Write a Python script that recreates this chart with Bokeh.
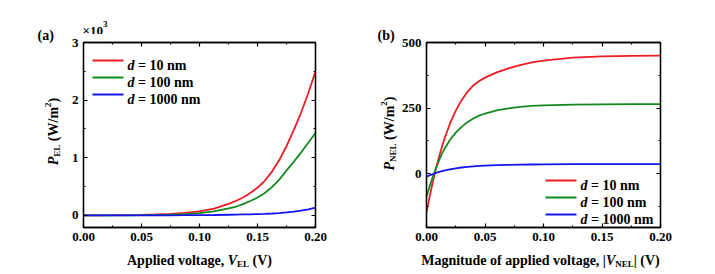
import math
from bokeh.plotting import figure
from bokeh.models import (Range1d, FixedTicker, LinearAxis, Label, NumeralTickFormatter,
                          CustomJSTickFormatter, Arrow, ColumnDataSource)
from bokeh.layouts import row, column
from bokeh.embed import file_html
from bokeh.resources import INLINE

# ---------------- data: panel (a), P_EL in units of 10^3 W/m^2 ----------------
v_el = [0.0, 0.0125, 0.025, 0.0375, 0.05, 0.0625, 0.075, 0.0875, 0.1, 0.1125, 0.125,
        0.13125, 0.1375, 0.14375, 0.15, 0.15625, 0.1625, 0.16875, 0.175, 0.18125, 0.1875, 0.19375, 0.2]
p_el_10nm = [0.0, 0.001, 0.003, 0.006, 0.010, 0.016, 0.026, 0.042, 0.07, 0.118, 0.2,
             0.25, 0.31, 0.39, 0.48, 0.60, 0.76, 0.96, 1.20, 1.48, 1.78, 2.12, 2.5]
p_el_100nm = [0.0, 0.0005, 0.001, 0.002, 0.004, 0.007, 0.012, 0.022, 0.04, 0.07, 0.12,
              0.15, 0.195, 0.25, 0.31, 0.39, 0.49, 0.62, 0.78, 0.93, 1.09, 1.26, 1.43]
p_el_1000nm = [0.0, 0.0, 0.0, 0.0005, 0.001, 0.0015, 0.002, 0.003, 0.005, 0.007, 0.011,
               0.013, 0.016, 0.019, 0.022, 0.027, 0.033, 0.041, 0.053, 0.066, 0.082, 0.105, 0.135]

# ---------------- data: panel (b), P_NEL in W/m^2 ----------------
v_nel = [0.0, 0.0025, 0.005, 0.0075, 0.01, 0.0125, 0.015, 0.02, 0.025, 0.03, 0.035, 0.04,
         0.045, 0.05, 0.06, 0.07, 0.08, 0.09, 0.1, 0.125, 0.15, 0.175, 0.2]
p_nel_10nm = [-148, -92, -40, 8, 52, 92, 128, 190, 240, 280, 312, 336,
              353, 366, 386, 401, 414, 424, 431, 442, 447, 449, 450]
p_nel_100nm = [-88, -52, -18, 13, 42, 68, 91, 128, 156, 178, 196, 210,
               221, 229, 241, 249, 254, 258, 260, 263, 264, 265, 265]
p_nel_1000nm = [-12, -7, -3, 1, 5, 8, 11, 16, 20, 23, 25, 27,
                29, 30, 32, 33, 34, 34.5, 35, 35.5, 36, 36, 36]

series_labels = ["10", "100", "1000"]
x_ticks = [0.0, 0.05, 0.10, 0.15, 0.20]
x_minor = [0.025, 0.075, 0.125, 0.175]
ya_ticks = [0, 1, 2, 3]
ya_minor = [0.5, 1.5, 2.5]
yb_ticks = [0, 250, 500]
yb_minor = [-125, 125, 375]

COLORS = ["#ee1c24", "#138a1e", "#1515f0"]
FONT = "Liberation Serif"

# approximate Times Bold / Bold-Italic advance widths (per 1000 em)
W_B = {' ': 250, '(': 333, ')': 333, ',': 250, '.': 250, '/': 278, '=': 570, '|': 220, '×': 570,
       'A': 722, 'E': 667, 'L': 667, 'M': 944, 'N': 722, 'V': 722, 'W': 1000, 'P': 611,
       'a': 500, 'd': 556, 'e': 444, 'f': 333, 'g': 500, 'i': 278, 'l': 278, 'm': 833, 'n': 556,
       'o': 500, 'p': 556, 't': 333, 'u': 556, 'v': 500, 'y': 500}
W_BI = {'P': 611, 'V': 667, 'd': 500}


def tw(s, size, it=False):
    tot = 0
    for c in s:
        if it and c in W_BI:
            tot += W_BI[c]
        else:
            tot += W_B.get(c, 500)
    return tot / 1000.0 * size


def total_w(pieces):
    return sum(tw(t, s, i) for t, i, s, o in pieces)


def frame_mapper(fl, fr, ft, fb, xr, yr):
    def fx(px):
        return xr[0] + (px - fl) / (fr - fl) * (xr[1] - xr[0])

    def fy(py):
        return yr[1] - (py - ft) / (fb - ft) * (yr[1] - yr[0])
    return fx, fy


def put(p, mp, text, it, size, px, py, align="left", rotate=False):
    fx, fy = mp
    p.add_layout(Label(x=fx(px), y=fy(py), text=text,
                       angle=math.pi / 2 if rotate else 0.0,
                       text_align=align, text_baseline="alphabetic",
                       text_font=FONT, text_font_style="bold italic" if it else "bold",
                       text_font_size=f"{size}px", text_color="black"))


def compose(p, mp, pieces, x0, y0, rotate=False):
    pos = 0.0
    for text, it, size, off in pieces:
        stripped = text.lstrip(" ")
        pos += tw(text[:len(text) - len(stripped)], size, it)
        if rotate:
            put(p, mp, stripped, it, size, x0 + off, y0 - pos, rotate=True)
        else:
            put(p, mp, stripped, it, size, x0 + pos, y0 + off)
        pos += tw(stripped, size, it)


def compose_centered(p, mp, head, tail, cx, y0):
    """head: long plain bold text (right-aligned at the junction); tail: small styled pieces."""
    hw = tw(head, 14)
    total = hw + total_w(tail)
    junction = cx - total / 2 + hw
    put(p, mp, head, False, 14, junction, y0, align="right")
    compose(p, mp, tail, junction, y0)


def text_fig(w, h, ox, oy):
    """A blank canvas used only to hold text; returns fig and page-pixel mapper."""
    f = figure(width=w, height=h, x_range=Range1d(0, w), y_range=Range1d(h, 0),
               min_border=0, x_axis_type=None, y_axis_type=None, title=None,
               output_backend="svg", toolbar_location=None,
               outline_line_color=None, background_fill_color="white", border_fill_color="white")
    f.grid.visible = False
    return f, (lambda px: px - ox, lambda py: py - oy)


def make_fig(xr, yr, frame_w, mb_left, mb_right, mb_top, xt_list, xm_list, yt_list, ym_list, xfmt):
    p = figure(frame_width=frame_w, frame_height=185,
               x_range=Range1d(*xr), y_range=Range1d(*yr), title=None,
               output_backend="svg", toolbar_location=None,
               min_border_left=mb_left, min_border_right=mb_right,
               min_border_top=mb_top, min_border_bottom=20,
               background_fill_color="white", border_fill_color="white")
    p.grid.visible = False
    p.outline_line_color = "black"
    p.outline_line_width = 1.3
    xt = FixedTicker(ticks=xt_list, minor_ticks=xm_list)
    yt = FixedTicker(ticks=yt_list, minor_ticks=ym_list)
    p.xaxis[0].ticker = xt
    p.xaxis[0].formatter = xfmt
    p.yaxis[0].ticker = yt
    empty = CustomJSTickFormatter(code="return ''")
    top = LinearAxis(ticker=xt, formatter=empty)
    right = LinearAxis(ticker=yt, formatter=empty)
    p.add_layout(top, "above")
    p.add_layout(right, "right")
    for ax in p.axis:
        ax.axis_line_color = "black"
        ax.axis_line_width = 1.3
        ax.major_tick_in = 4
        ax.major_tick_out = 0
        ax.minor_tick_in = 2
        ax.minor_tick_out = 0
        ax.major_tick_line_color = "black"
        ax.minor_tick_line_color = "black"
        ax.major_tick_line_width = 1.2
        ax.minor_tick_line_width = 1.2
        ax.major_label_text_font = FONT
        ax.major_label_text_font_style = "bold"
        ax.major_label_text_font_size = "13px"
        ax.major_label_text_color = "black"
        ax.major_label_standoff = 5
    for ax in (top, right):
        ax.major_label_text_font_size = "0px"
        ax.major_label_text_color = None
        ax.major_label_standoff = 0
    return p


def legend(p, mp, x_line0, x_line1, x_text, rows):
    fx, fy = mp
    for lab, c, ry in zip(series_labels, COLORS, rows):
        p.add_layout(Arrow(end=None, x_start=fx(x_line0), y_start=fy(ry),
                           x_end=fx(x_line1), y_end=fy(ry), line_color=c, line_width=2))
        put(p, mp, "d", True, 14, x_text, ry + 5)
        put(p, mp, f"= {lab} nm", False, 14, x_text + tw("d ", 14, True), ry + 5)


UPPER_H = 247   # height of everything above the x-title strips
TOP_H = 34      # strip above plot (a) holding the x10^3 multiplier
XLAB_H = 27

# ================= panel (a) =================
# left column x 0..62 (y 0..247); plot x 62..363, y 34..247 (frame 83..315 x 42..227)
xa_rng = (0.0, 0.2)
ya_rng = (-0.21, 3.0)
pa = make_fig(xa_rng, ya_rng, 232, 21, 48, 42 - TOP_H, x_ticks, x_minor, ya_ticks, ya_minor,
              NumeralTickFormatter(format="0.00"))
mpa = frame_mapper(83, 315, 42, 227, xa_rng, ya_rng)
src_a = ColumnDataSource(dict(v=v_el, r=p_el_10nm, g=p_el_100nm, b=p_el_1000nm))
for col, c in zip(["r", "g", "b"], COLORS):
    pa.line(x="v", y=col, source=src_a, line_color=c, line_width=1.8)
legend(pa, mpa, 92, 123, 127, [60, 77, 94])

leftA, mlA = text_fig(62, UPPER_H, 0, 0)
put(leftA, mlA, "(a)", False, 14, 37, 35)
ya_pieces = [("P", True, 14, 0), ("EL", False, 9, 3), (" (W/m", False, 14, 0),
             ("2", False, 9, -6), (")", False, 14, 0)]
compose(leftA, mlA, ya_pieces, 53, 131 + total_w(ya_pieces) / 2, rotate=True)

topA, mtA = text_fig(301, TOP_H, 62, 0)
put(topA, mtA, "×10", False, 13, 82, 30)
put(topA, mtA, "3", False, 9, 82 + tw("×10", 13), 23)

xlabA, mxA = text_fig(363, XLAB_H, 0, UPPER_H)
compose_centered(xlabA, mxA, "Applied voltage,",
                 [(" V", True, 14, 0), ("EL", False, 9, 3), (" (V)", False, 14, 0)], 199, 260)

# ================= panel (b) =================
# left column x 363..398 (y 0..247); plot x 398..697, y 0..247 (frame 423..657 x 42..227)
xb_rng = (0.0, 0.2)
yb_rng = (-206.0, 500.0)
pb = make_fig(xb_rng, yb_rng, 234, 25, 40, 42, x_ticks, x_minor, yb_ticks, yb_minor,
              NumeralTickFormatter(format="0.00"))
mpb = frame_mapper(423, 657, 42, 227, xb_rng, yb_rng)
src_b = ColumnDataSource(dict(v=v_nel, r=p_nel_10nm, g=p_nel_100nm, b=p_nel_1000nm))
for col, c in zip(["r", "g", "b"], COLORS):
    pb.line(x="v", y=col, source=src_b, line_color=c, line_width=1.8)
legend(pb, mpb, 542, 573, 577, [180, 197, 214])

leftB, mlB = text_fig(35, UPPER_H, 363, 0)
put(leftB, mlB, "(b)", False, 14, 377, 35)
yb_pieces = [("P", True, 14, 0), ("NEL", False, 9, 3), (" (W/m", False, 14, 0),
             ("2", False, 9, -6), (")", False, 14, 0)]
compose(leftB, mlB, yb_pieces, 389, 133 + total_w(yb_pieces) / 2, rotate=True)

xlabB, mxB = text_fig(334, XLAB_H, 363, UPPER_H)
compose_centered(xlabB, mxB, "Magnitude of applied voltage, |",
                 [("V", True, 14, 0), ("NEL", False, 9, 3), ("| (V)", False, 14, 0)], 540, 260)

# plots are wrapped in their own column so their frames are not aligned with the text strips
blockA = column(row(leftA, column(topA, column(pa))), xlabA)
blockB = column(row(leftB, column(pb)), xlabB)
layout = row(blockA, blockB)
open("out.html", "w").write(file_html(layout, INLINE))
